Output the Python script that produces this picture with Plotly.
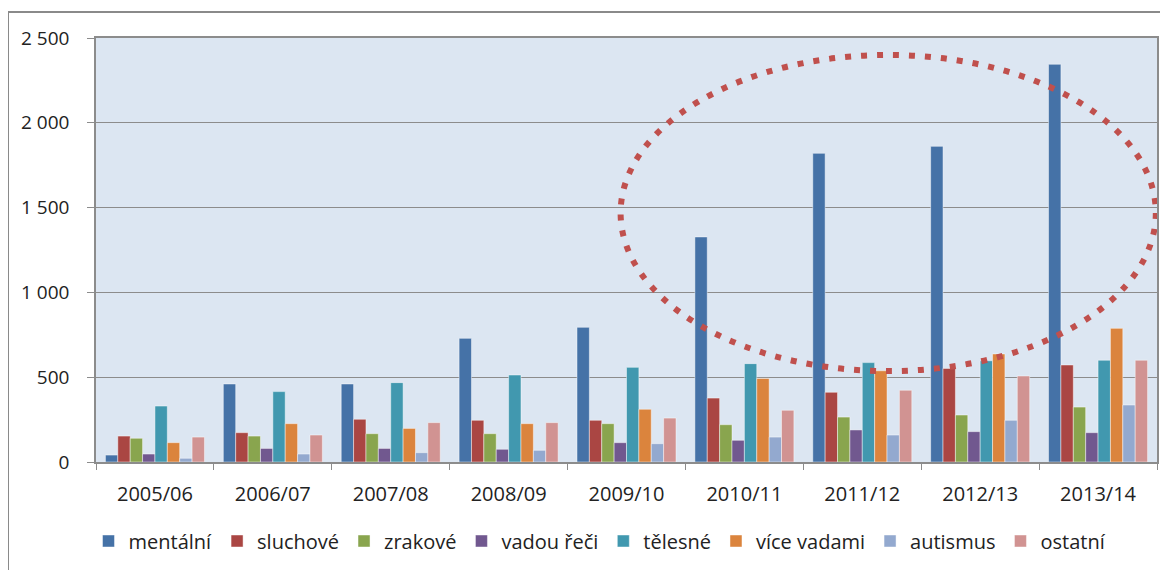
import plotly.graph_objects as go

years = ["2005/06", "2006/07", "2007/08", "2008/09", "2009/10",
         "2010/11", "2011/12", "2012/13", "2013/14"]

mentalni = [41, 460, 460, 729, 794, 1327, 1820, 1861, 2345]
sluchove = [153, 173, 252, 246, 246, 377, 411, 552, 572]
zrakove = [140, 153, 167, 167, 226, 220, 265, 277, 324]
vadou_reci = [47, 80, 80, 75, 114, 128, 189, 179, 173]
telesne = [330, 415, 468, 513, 558, 580, 586, 597, 600]
vice_vadami = [114, 226, 198, 226, 311, 493, 538, 637, 788]
autismus = [22, 47, 55, 69, 108, 147, 159, 246, 336]
ostatni = [147, 159, 232, 232, 259, 305, 423, 507, 600]

series = [
    ("mentální", mentalni, "#4572A7"),
    ("sluchové", sluchove, "#AA4643"),
    ("zrakové", zrakove, "#89A54E"),
    ("vadou řeči", vadou_reci, "#71588F"),
    ("tělesné", telesne, "#4198AF"),
    ("více vadami", vice_vadami, "#DB843D"),
    ("autismus", autismus, "#93A9CF"),
    ("ostatní", ostatni, "#D19392"),
]

FONT = "Open Sans"

fig = go.Figure()
for name, vals, col in series:
    fig.add_trace(go.Bar(
        x=years, y=vals, name=name,
        marker=dict(color=col, line=dict(color="rgba(255,255,255,0.45)", width=1)),
    ))

# the page body adds an 8px offset; target page pixels: plot x 96..1157, y 38..462
OFF = 8
L, R, T, B = 96 - OFF, 1157 - OFF, 38 - OFF, 462 - OFF
W, H = 1168 - OFF, 570 - OFF
pw, ph = R - L, B - T

def px_x(p):
    return (p - OFF - L) / pw

def px_y(p):
    return (B - (p - OFF)) / ph

shapes = [
    # outer frame
    dict(type="rect", xref="paper", yref="paper",
         x0=px_x(8), x1=px_x(1185), y0=px_y(12), y1=px_y(590),
         line=dict(color="#8a8a8a", width=2), fillcolor="rgba(0,0,0,0)", layer="below"),
    # dotted ellipse highlight
    dict(type="circle", xref="x", yref="y",
         x0=3.95, x1=8.49, y0=536, y1=2400,
         line=dict(color="#C0504D", width=6, dash="6px,10px"),
         fillcolor="rgba(0,0,0,0)", layer="above"),
]

fig.update_layout(
    width=W, height=H,
    margin=dict(l=L, r=W - R, t=T, b=H - B, autoexpand=False),
    paper_bgcolor="white",
    plot_bgcolor="#DCE6F2",
    barmode="group",
    bargap=0.16,
    bargroupgap=0,
    separators=", ",
    font=dict(family=FONT, size=19, color="#222222"),
    shapes=shapes,
    showlegend=True,
    legend=dict(
        orientation="h", x=px_x(600), xanchor="center",
        y=px_y(541), yanchor="middle",
        font=dict(family=FONT, size=20, color="#222222"),
        bgcolor="rgba(0,0,0,0)", itemwidth=30,
    ),
)

fig.update_xaxes(
    type="category",
    showline=True, linecolor="#8c8c8c", linewidth=1.5, mirror=True,
    ticks="outside", tickson="boundaries", ticklen=6, tickcolor="#8c8c8c",
    showgrid=False,
    tickfont=dict(family=FONT, size=20, color="#222222"),
    ticklabelstandoff=13,
    range=[-0.5, 8.5],
)
fig.update_yaxes(
    range=[0, 2500],
    tickvals=[0, 500, 1000, 1500, 2000, 2500],
    separatethousands=True,
    showline=True, linecolor="#8c8c8c", linewidth=1.5, mirror=True,
    ticks="outside", ticklen=7, tickcolor="#8c8c8c",
    showgrid=True, gridcolor="#8c8c8c", gridwidth=1,
    zeroline=False,
    tickfont=dict(family=FONT, size=19, color="#222222"),
    ticklabelstandoff=14,
)

fig.write_html("out.html")
